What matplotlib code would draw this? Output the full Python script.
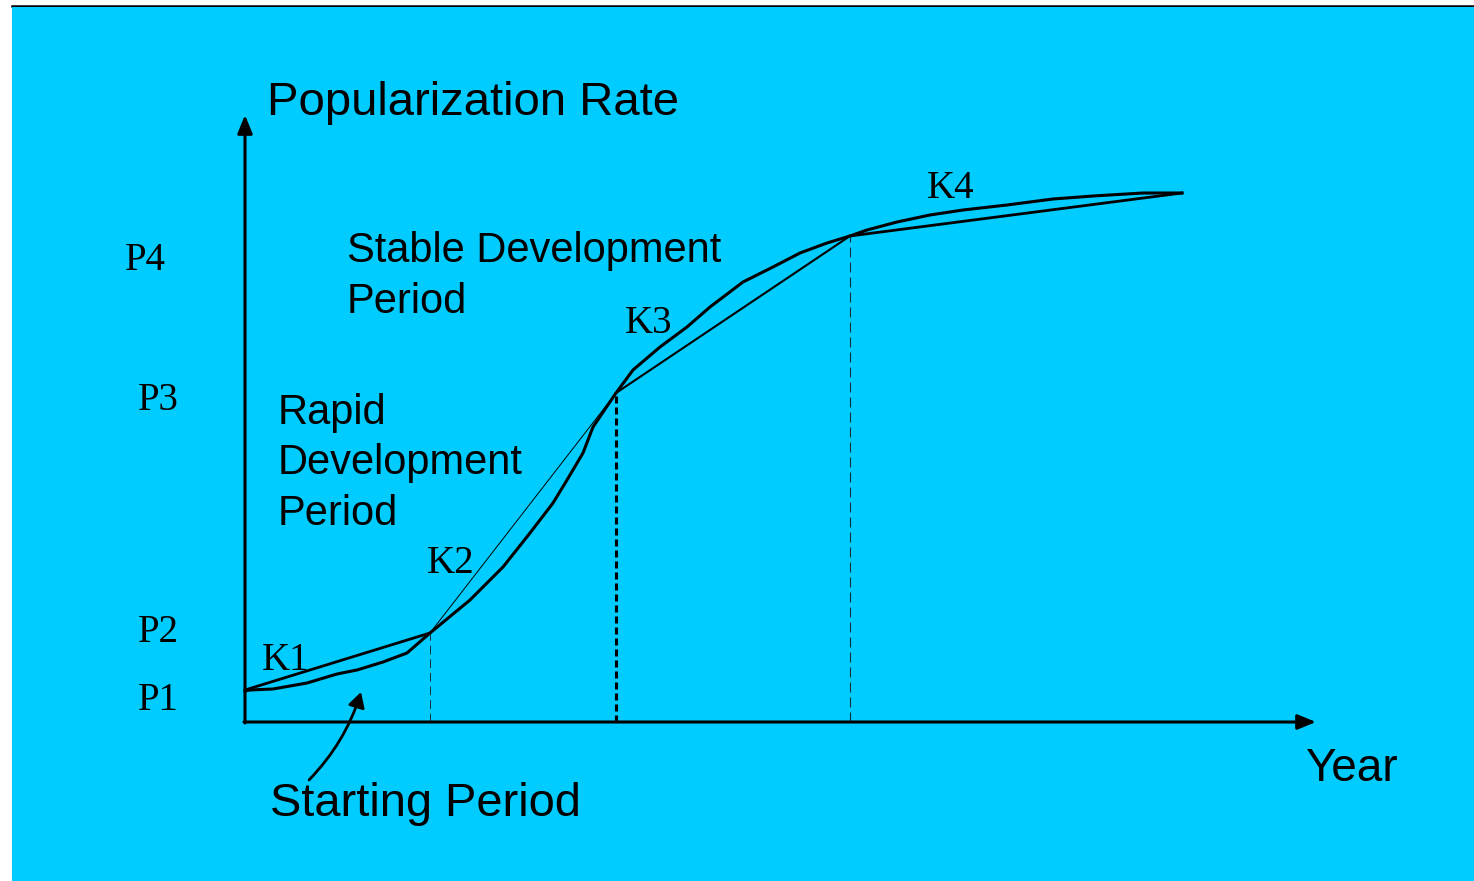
import matplotlib.pyplot as plt
from matplotlib.patches import Rectangle
from matplotlib.lines import Line2D

# Data (x = year units, y = popularization rate units)
curve_years = [0, 0.5, 2.8, 6.2, 9.2, 11.2, 13.8, 16.2, 18.5, 22.5, 25.8, 28.5,
               30.8, 32.2, 33.8, 34.8, 37.1, 38.8, 41.5, 44.2, 46.5, 49.8, 52.8,
               55.5, 58.2, 60.5, 62.2, 65.2, 68.5, 71.8, 76.2, 80.8, 84.8, 89.8, 93.7]
curve_rates = [3.1, 3.2, 3.3, 3.9, 4.8, 5.2, 6.0, 6.9, 8.9, 12.2, 15.5, 18.9,
               21.9, 24.2, 26.9, 29.5, 32.9, 35.2, 37.5, 39.5, 41.5, 44.0, 45.5,
               46.9, 47.9, 48.6, 49.2, 50.0, 50.7, 51.2, 51.7, 52.3, 52.6, 52.9, 52.9]

stage_years = [0, 18.5, 37.1, 60.5, 93.7]
stage_rates = [3.2, 8.9, 32.9, 48.6, 52.9]
slope_labels = ["K1", "K2", "K3", "K4"]
level_labels = ["P1", "P2", "P3", "P4"]

# Layout
BG = "#00CCFF"
SANS = "Liberation Sans"
SERIF = "Liberation Serif"
chord_widths = [2.0, 0.7, 1.5, 2.0]
slope_label_pos = [(1.7, 5.2), (18.2, 14.9), (38.0, 38.9), (68.2, 52.4)]
level_label_pos = [(-10.7, 1.2), (-10.7, 8.0), (-10.7, 31.2), (-12.0, 45.2)]

fig = plt.figure(figsize=(14.74, 8.81), dpi=100)
fig.patch.set_facecolor("white")
fig.patches.append(Rectangle((12 / 1474, 0), 1, 1 - 7 / 881, transform=fig.transFigure,
                             facecolor=BG, edgecolor="none", zorder=-5))
fig.lines.append(Line2D([12 / 1474, 1], [1 - 6 / 881] * 2, transform=fig.transFigure,
                        color="black", lw=1.8, zorder=-5))

ax = fig.add_axes([0, 0, 1, 1])
ax.set_xlim(-24.5, 122.9)
ax.set_ylim(-15.9, 72.2)
ax.axis("off")
ax.patch.set_alpha(0)

# axes with arrow heads
arrow = dict(arrowstyle="-|>,head_length=11,head_width=4.5", lw=2.2, color="black",
             shrinkA=0, shrinkB=0, mutation_scale=1)
ax.annotate("", xy=(107.1, 0), xytext=(-0.1, 0), arrowprops=arrow)
ax.annotate("", xy=(0, 60.7), xytext=(0, -0.1), arrowprops=arrow)

# main curve
ax.plot(curve_years, curve_rates, color="black", lw=2.2, solid_joinstyle="round")

# chords between stage points
for i in range(4):
    ax.plot(stage_years[i:i + 2], stage_rates[i:i + 2], color="black", lw=chord_widths[i])

# vertical dashed guides
ax.plot([stage_years[1]] * 2, [0, stage_rates[1]], color="#10303a", lw=0.7, dashes=(9, 5))
ax.plot([stage_years[2]] * 2, [0, stage_rates[2]], color="black", lw=2.2, dashes=(2.3, 1.3))
ax.plot([stage_years[3]] * 2, [0, stage_rates[3]], color="#10303a", lw=0.8, dashes=(9, 4.5))

for lab, (x, y) in zip(slope_labels, slope_label_pos):
    ax.text(x, y, lab, family=SERIF, fontsize=28, va="baseline", ha="left")
for lab, (x, y) in zip(level_labels, level_label_pos):
    ax.text(x, y, lab, family=SERIF, fontsize=28, va="baseline", ha="left")

ax.text(2.2, 60.7, "Popularization Rate", family=SANS, fontsize=34, va="baseline")
ax.text(106.0, -5.9, "Year", family=SANS, fontsize=33, va="baseline")
ax.text(2.5, -9.4, "Starting Period", family=SANS, fontsize=33.8, va="baseline")
for line, y in zip(["Stable Development", "Period"], [46.0, 40.9]):
    ax.text(10.2, y, line, family=SANS, fontsize=30, va="baseline")
for line, y in zip(["Rapid", "Development", "Period"], [29.8, 24.8, 19.7]):
    ax.text(3.3, y, line, family=SANS, fontsize=30, va="baseline")

# pointer to the starting period
ax.annotate("", xy=(11.6, 3.0), xytext=(6.4, -5.8),
            arrowprops=dict(arrowstyle="-|>,head_length=9,head_width=5", lw=2.0,
                            color="black", shrinkA=0, shrinkB=0, mutation_scale=1,
                            connectionstyle="arc3,rad=0.12"))

fig.savefig("out.png", dpi=100, facecolor=fig.get_facecolor())
